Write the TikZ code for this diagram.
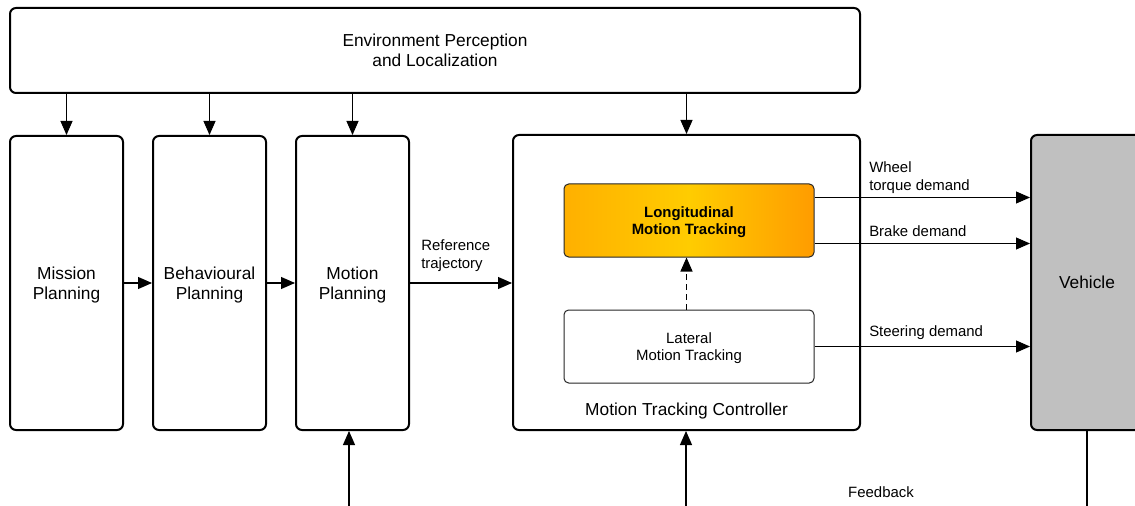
\documentclass[tikz,border=0pt]{standalone}
\usepackage{fontspec}
\setmainfont{Liberation Sans}
\usetikzlibrary{arrows.meta,positioning,calc}
\definecolor{lonside}{HTML}{FFB000}
\definecolor{lonmid}{HTML}{FFCC00}
\definecolor{lonright}{HTML}{FF9C00}
\definecolor{vehgray}{HTML}{C0C0C0}
\tikzset{
  blk/.style={draw=black,line width=1.5pt,rounded corners=4.5pt,fill=white,
              align=center,font=\fontsize{13}{15}\selectfont,inner sep=0pt,
              text depth=0pt},
  sub/.style={draw=black!85,line width=.75pt,rounded corners=3.5pt,
              minimum width=187.5pt,minimum height=54.75pt,align=center,
              font=\fontsize{11.2}{13}\selectfont,inner sep=0pt,text depth=0pt},
  ar/.style ={-{Triangle[length=10.5pt,width=9pt]},line width=.8pt},
  dar/.style={ar,dash pattern=on 4.5pt off 3pt},
  lbl/.style={font=\fontsize{11.2}{13.5}\selectfont,align=left,inner sep=0pt},
}
\begin{document}
\begin{tikzpicture}[x=0.75pt,y=-0.75pt]
  \useasboundingbox (0,0) rectangle (1135,506);
  % top and planning chain
  \node[blk,minimum width=637.5pt,minimum height=63.75pt] (env) at (435,50.5)
       {Environment Perception\\and Localization};
  \node[blk,minimum width=84.75pt,minimum height=220.5pt] (mis) at (66.5,283)
       {Mission\\Planning};
  \node[blk,minimum width=84.75pt,minimum height=220.5pt] (beh) at (209.5,283)
       {Behavioural\\Planning};
  \node[blk,minimum width=84.75pt,minimum height=220.5pt] (mot) at (352.5,283)
       {Motion\\Planning};
  % controller with its two trackers
  \node[blk,minimum width=260.25pt,minimum height=221.25pt] (ctl) at (686.5,282.5){};
  \node[font=\fontsize{13}{15}\selectfont] (ctltxt) at (686.5,411)
       {Motion Tracking Controller};
  \node[sub,font=\fontsize{11.2}{13}\selectfont\bfseries,left color=lonside,
        right color=lonright,middle color=lonmid] (lon) at (689,220.5)
       {Longitudinal\\Motion Tracking};
  \node[sub,fill=white] (lat) at (689,346.5) {Lateral\\Motion Tracking};
  \node[blk,fill=vehgray,minimum width=84pt,minimum height=221.25pt] (veh)
       at (1087,282.5) {Vehicle};
  % free ends at the bottom edge
  \coordinate (mpin) at (349,510);
  \coordinate (ctin) at (686,510);
  \coordinate (vout) at (1087,510);
  % connectors
  \draw[ar] (env.south -| mis.north) -- (mis.north);
  \draw[ar] (env.south -| beh.north) -- (beh.north);
  \draw[ar] (env.south -| mot.north) -- (mot.north);
  \draw[ar] (env.south -| ctl.north) -- (ctl.north);
  \draw[ar] (mis) -- (beh);
  \draw[ar] (beh) -- (mot);
  \draw[ar] (mot) -- (mot -| ctl.west);
  \draw[dar] (lat.north -| ctl) -- (lon.south -| ctl);
  \draw[ar] ([yshift=17.25pt]lon.east) -- ([yshift=17.25pt]lon.east -| veh.west);
  \draw[ar] ([yshift=-17.25pt]lon.east) -- ([yshift=-17.25pt]lon.east -| veh.west);
  \draw[ar] (lat.east) -- (lat.east -| veh.west);
  \draw[ar] (mpin) -- (mpin |- mot.south);
  \draw[ar] (ctin) -- (ctin |- ctl.south);
  \draw[line width=.8pt] (veh.south) -- (vout);
  % connector labels
  \node[lbl,anchor=west] (reftxt) at (421,256) {Reference\\trajectory};
  \node[lbl,anchor=west] (whltxt) at (869,177.5) {Wheel\\torque demand};
  \node[lbl,anchor=west] (brktxt) at (869,231) {Brake demand};
  \node[lbl,anchor=west] (strtxt) at (869,333) {Steering demand};
  \node[lbl] (fbtxt) at (881,492) {Feedback};
\end{tikzpicture}
\end{document}
